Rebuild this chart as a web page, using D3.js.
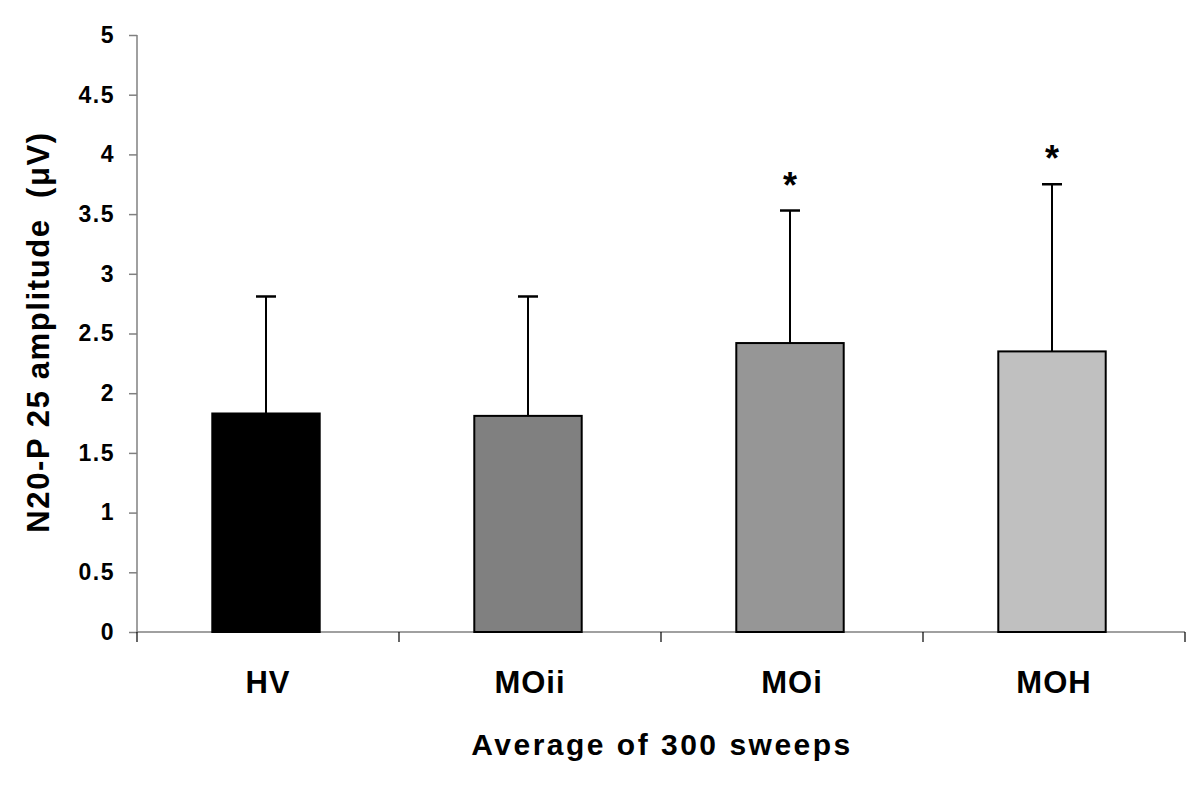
<!DOCTYPE html>
<html>
<head>
    <meta charset="utf-8">
    <style>
        body { margin: 0; background: white; }
        svg { font-family: 'Liberation Sans', Arial, Helvetica, sans-serif; font-weight: bold; }
        .axis .domain, .axis .tick line { stroke: #808080; stroke-width: 1.5px; }
        .axis text { fill: #000; font-size: 23px; font-weight: bold; letter-spacing: 1.5px; }
    </style>
</head>
<body>
<svg width="1200" height="796" id="chart"></svg>
<script src="https://d3js.org/d3.v7.min.js"></script>
<script>
    // data
    let groups = ["HV", "MOii", "MOi", "MOH"]
    let means = [1.83, 1.81, 2.42, 2.35]
    let sds = [0.98, 1.0, 1.11, 1.40]
    let signif = [false, false, true, true]
    let fills = ["#000000", "#808080", "#969696", "#c0c0c0"]
    let yTicks = [0, 0.5, 1, 1.5, 2, 2.5, 3, 3.5, 4, 4.5, 5]

    let svg = d3.select("#chart")
    let margin = { top: 35, right: 15, bottom: 164, left: 137 },
        width = 1200 - margin.left - margin.right,
        height = 796 - margin.top - margin.bottom

    let x = d3.scaleBand()
        .domain(groups)
        .range([margin.left - 2, margin.left + width - 2])
        .paddingInner(0.59)
        .paddingOuter(0.295)

    let xb = d3.scaleBand()
        .domain(groups)
        .range([margin.left, margin.left + width])

    let y = d3.scaleLinear()
        .domain([0, 5])
        .range([margin.top + height, margin.top])

    // y axis
    svg.append("g")
        .attr("class", "y axis")
        .attr("transform", `translate(${margin.left},0)`)
        .call(d3.axisLeft(y).tickValues(yTicks).tickSize(8).tickPadding(14)
            .tickFormat(d => d3.format("")(d)))
        .call(g => g.select(".domain").attr("d", `M0,${y(5)}V${y(0)}`))

    // x axis line + boundary ticks
    let xg = svg.append("g")
        .attr("class", "x axis")
        .attr("transform", `translate(0,${y(0)})`)
    xg.append("path")
        .attr("class", "domain")
        .attr("d", `M${margin.left},0H${margin.left + width}`)
    let bounds = groups.map(g => xb(g)).concat([margin.left + width])
    xg.selectAll(".tick")
        .data(bounds)
        .join("line")
        .attr("class", "tick")
        .attr("x1", d => d).attr("x2", d => d)
        .attr("y1", 0).attr("y2", 10)
        .style("stroke", "#000")
        .style("stroke-width", 1.2)

    // category labels
    svg.append("g")
        .selectAll("text")
        .data(groups)
        .join("text")
        .attr("x", d => xb(d) + xb.bandwidth() / 2)
        .attr("y", 693)
        .attr("text-anchor", "middle")
        .style("font-size", "31px")
        .style("letter-spacing", "1px")
        .text(d => d)

    // error bars (behind bars)
    let data = groups.map((g, i) => ({ g: g, m: means[i], sd: sds[i], s: signif[i], fill: fills[i] }))

    svg.append("g")
        .selectAll("line")
        .data(data)
        .join("line")
        .attr("x1", d => x(d.g) + x.bandwidth() / 2)
        .attr("x2", d => x(d.g) + x.bandwidth() / 2)
        .attr("y1", d => y(d.m))
        .attr("y2", d => y(d.m + d.sd))
        .style("stroke", "#000")
        .style("stroke-width", 2)

    svg.append("g")
        .selectAll("line")
        .data(data)
        .join("line")
        .attr("x1", d => x(d.g) + x.bandwidth() / 2 - 10)
        .attr("x2", d => x(d.g) + x.bandwidth() / 2 + 10)
        .attr("y1", d => y(d.m + d.sd))
        .attr("y2", d => y(d.m + d.sd))
        .style("stroke", "#000")
        .style("stroke-width", 2.5)

    // bars
    svg.append("g")
        .selectAll("rect")
        .data(data)
        .join("rect")
        .attr("x", d => x(d.g))
        .attr("y", d => y(d.m))
        .attr("width", x.bandwidth())
        .attr("height", d => y(0) - y(d.m))
        .style("fill", d => d.fill)
        .style("stroke", "#000")
        .style("stroke-width", 2)

    // significance stars
    svg.append("g")
        .selectAll("text")
        .data(data.filter(d => d.s))
        .join("text")
        .attr("x", d => x(d.g) + x.bandwidth() / 2)
        .attr("y", d => y(d.m + d.sd) - 13)
        .attr("text-anchor", "middle")
        .style("font-size", "36px")
        .text("*")

    // axis titles
    svg.append("text")
        .attr("transform", `translate(49,332) rotate(-90)`)
        .attr("text-anchor", "middle")
        .style("font-size", "31px")
        .style("letter-spacing", "1.6px")
        .style("white-space", "pre")
        .text("N20-P 25 amplitude  (\u03bcV)")

    svg.append("text")
        .attr("x", 662)
        .attr("y", 755)
        .attr("text-anchor", "middle")
        .style("font-size", "30px")
        .style("letter-spacing", "2.5px")
        .text("Average of 300 sweeps")
</script>
</body>
</html>
